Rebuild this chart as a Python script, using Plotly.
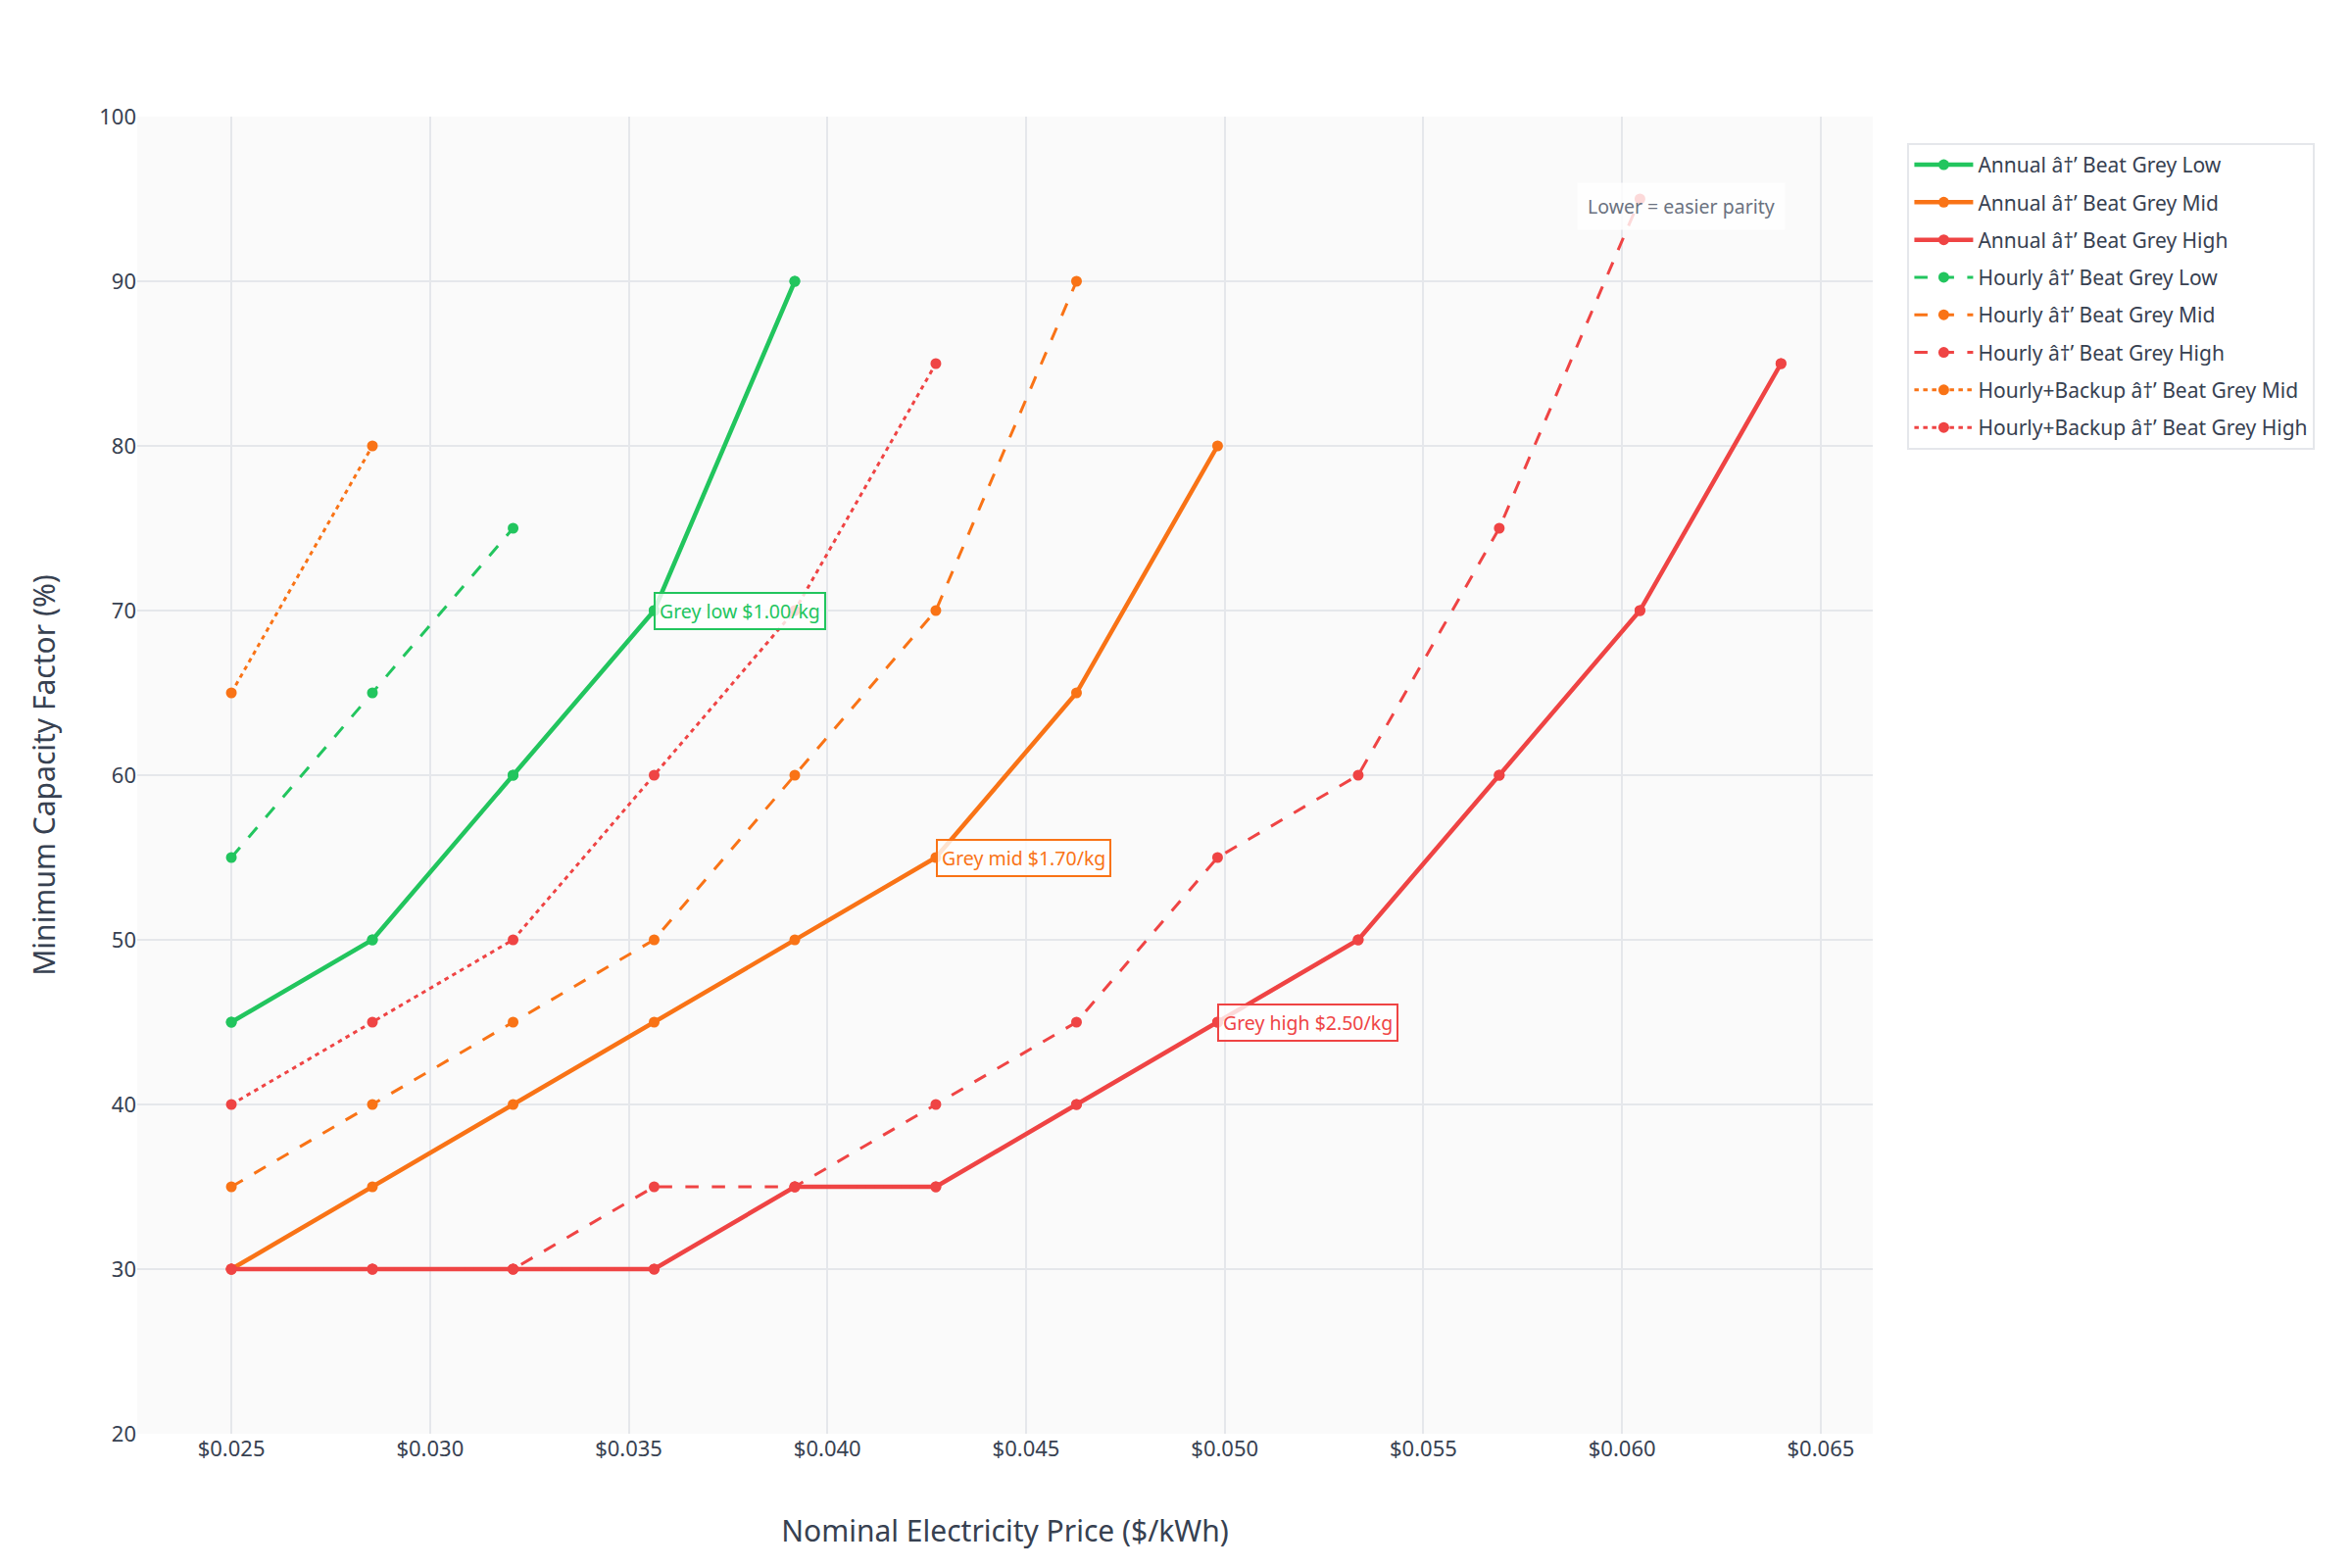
import plotly.graph_objects as go

# ---- data ----
price = [0.025, 0.02855, 0.03209, 0.03564, 0.03918, 0.04273, 0.04627, 0.04982, 0.05336, 0.05691, 0.06045, 0.064]

annual_low = [45, 50, 60, 70, 90]
annual_mid = [30, 35, 40, 45, 50, 55, 65, 80]
annual_high = [30, 30, 30, 30, 35, 35, 40, 45, 50, 60, 70, 85]
hourly_low = [55, 65, 75]
hourly_mid = [35, 40, 45, 50, 60, 70, 90]
hourly_high = [30, 30, 30, 35, 35, 40, 45, 55, 60, 75, 95]
backup_mid = [65, 80]
backup_high = [40, 45, 50, 60, 70, 85]

names = {
    "annual_low": "Annual \u00e2\u2020\u2019 Beat Grey Low",
    "annual_mid": "Annual \u00e2\u2020\u2019 Beat Grey Mid",
    "annual_high": "Annual \u00e2\u2020\u2019 Beat Grey High",
    "hourly_low": "Hourly \u00e2\u2020\u2019 Beat Grey Low",
    "hourly_mid": "Hourly \u00e2\u2020\u2019 Beat Grey Mid",
    "hourly_high": "Hourly \u00e2\u2020\u2019 Beat Grey High",
    "backup_mid": "Hourly+Backup \u00e2\u2020\u2019 Beat Grey Mid",
    "backup_high": "Hourly+Backup \u00e2\u2020\u2019 Beat Grey High",
}

annotations_text = ["Grey low $1.00/kg", "Grey mid $1.70/kg", "Grey high $2.50/kg"]
annotation_idx = [3, 5, 7]

GREEN = "#22c55e"
ORANGE = "#f97316"
RED = "#ef4444"
FONT = "Noto Sans, Open Sans, sans-serif"
DASH = "13.5px,13.5px"
DOT = "4.5px,4.5px"

fig = go.Figure()


def add(y, name, color, width, dash, showlegend=True):
    fig.add_trace(go.Scatter(
        x=price[:len(y)], y=y, name=name, mode="lines+markers",
        line=dict(color=color, width=width, dash=dash),
        marker=dict(color=color, size=11),
        showlegend=showlegend, legendgroup=name,
    ))


add(annual_low, names["annual_low"], GREEN, 4.5, "solid")
add(annual_mid, names["annual_mid"], ORANGE, 4.5, "solid")
add(annual_high, names["annual_high"], RED, 4.5, "solid")
add(hourly_low, names["hourly_low"], GREEN, 3, DASH)
add(hourly_mid, names["hourly_mid"], ORANGE, 3, DASH)
add(hourly_high, names["hourly_high"], RED, 3, DASH)
add(backup_mid, names["backup_mid"], ORANGE, 3, DOT)
add(backup_high, names["backup_high"], RED, 3, DOT)
# overlapping series (coincide with annual curves)
add(annual_low, "overlay low", GREEN, 3, DASH, showlegend=False)
add(annual_high, "overlay high", RED, 3, DOT, showlegend=False)

series_for_ann = [annual_low, annual_mid, annual_high]
colors = [GREEN, ORANGE, RED]
for txt, idx, ser, col in zip(annotations_text, annotation_idx, series_for_ann, colors):
    fig.add_annotation(
        x=price[idx], y=ser[idx], text=txt, showarrow=False,
        xanchor="left", yanchor="middle",
        font=dict(family=FONT, size=19.5, color=col),
        bgcolor="rgba(255,255,255,0.8)", bordercolor=col, borderwidth=2, borderpad=4,
    )

fig.add_annotation(
    x=0.95, y=0.95, xref="paper", yref="paper", text="Lower = easier parity",
    showarrow=False, xanchor="right", yanchor="top",
    font=dict(family=FONT, size=19.5, color="#6b7280"),
    bgcolor="rgba(255,255,255,0.8)", borderpad=10,
)

fig.update_layout(
    width=2400, height=1600,
    margin=dict(l=140, r=489, t=119, b=137),
    paper_bgcolor="white", plot_bgcolor="#fafafa",
    font=dict(family=FONT, size=22, color="#374151"),
    legend=dict(
        x=1.02, y=0.98, xanchor="left", yanchor="top",
        bgcolor="white", bordercolor="#e5e7eb", borderwidth=2,
        font=dict(family=FONT, size=21, color="#374151"),
        tracegroupgap=8, itemwidth=60,
    ),
    xaxis=dict(
        range=[0.02263, 0.06631], tickprefix="$", tickformat=".3f", dtick=0.005,
        tick0=0.025, showgrid=True, gridcolor="#e5e7eb", gridwidth=1.5, zeroline=False,
        showline=False, tickfont=dict(size=22),
        title=dict(text="Nominal Electricity Price ($/kWh)", font=dict(size=30, color="#374151"), standoff=60),
    ),
    yaxis=dict(
        range=[20, 100], dtick=10, showgrid=True, gridcolor="#e5e7eb", gridwidth=1.5,
        zeroline=False, showline=False, tickfont=dict(size=22),
        title=dict(text="Minimum Capacity Factor (%)", font=dict(size=30, color="#374151"), standoff=35),
    ),
)

fig.write_html("out.html")
